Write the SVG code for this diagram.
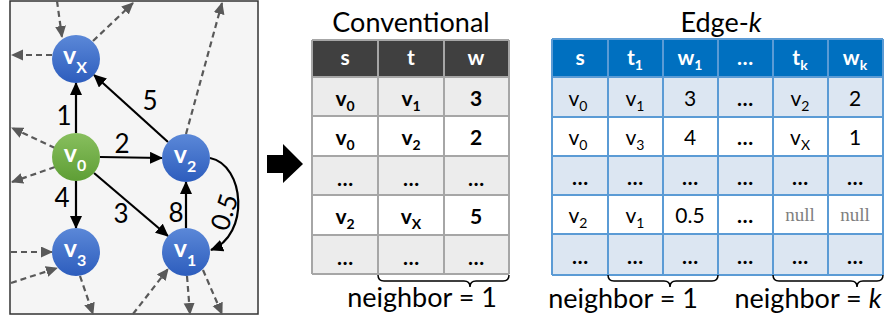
<svg xmlns="http://www.w3.org/2000/svg" width="886" height="322" viewBox="0 0 886 322">
<style>
text{font-family:Lato,"Open Sans","Liberation Sans",sans-serif}
.nl{font-size:25px;font-weight:bold;fill:#fff}
.ns{font-size:16px}
.wt{font-size:26px;fill:#000}
.e{stroke:#000;stroke-width:2.2;fill:none;marker-end:url(#ah)}
.d{stroke:#595959;stroke-width:2.2;stroke-dasharray:6 4;fill:none;marker-end:url(#dh)}
.hd{font-size:21px;font-weight:bold;fill:#fff}
.cb{font-size:21px;font-weight:bold;fill:#000}
.cn{font-size:21px;fill:#000}
.sb{font-size:14px}
.nul{font-family:"Liberation Serif",serif;font-size:19px;fill:#7f7f7f}
.ttl{font-size:27px;fill:#000}
.nb{font-size:27px;fill:#000}
.br{stroke:#000;stroke-width:1.5;fill:none}
.gc{stroke:#a6a6a6;stroke-width:2;fill:none}
.gb{stroke:#5b9bd5;stroke-width:2;fill:none}
</style>
<defs>
<linearGradient id="gB" x1="0" y1="0" x2="0" y2="1"><stop offset="0" stop-color="#5b88d8"/><stop offset="1" stop-color="#2d5dbd"/></linearGradient>
<linearGradient id="gG" x1="0" y1="0" x2="0" y2="1"><stop offset="0" stop-color="#88bf5e"/><stop offset="1" stop-color="#5e9e35"/></linearGradient>
<marker id="ah" markerUnits="userSpaceOnUse" markerWidth="14" markerHeight="12" refX="12" refY="6" orient="auto"><path d="M0,0 L13,6 L0,12 z" fill="#000"/></marker>
<marker id="dh" markerUnits="userSpaceOnUse" markerWidth="13" markerHeight="12" refX="11" refY="5.5" orient="auto"><path d="M0,0 L12,5.5 L0,11 z" fill="#595959"/></marker>
</defs>
<rect width="886" height="322" fill="#fff"/>
<rect x="10" y="1" width="248" height="313" fill="#f5f5f5" stroke="#333" stroke-width="1.5"/>

<g id="connectors">
<line class="d" x1="57" y1="1" x2="62" y2="37"/>
<line class="d" x1="93" y1="41" x2="133" y2="3"/>
<line class="d" x1="52" y1="55" x2="12" y2="55"/>
<line class="d" x1="186" y1="134" x2="222" y2="3"/>
<line class="d" x1="55" y1="148" x2="12" y2="128"/>
<line class="d" x1="55" y1="167" x2="12" y2="182"/>
<line class="d" x1="11" y1="252" x2="52" y2="252"/>
<line class="d" x1="11" y1="283" x2="57" y2="268"/>
<line class="d" x1="80" y1="276" x2="93" y2="314"/>
<line class="d" x1="133" y1="314" x2="168" y2="269"/>
<line class="d" x1="187" y1="276" x2="190" y2="314"/>
<line class="d" x1="203" y1="270" x2="222" y2="314"/>
<line class="e" x1="76" y1="133" x2="76" y2="83"/>
<line class="e" x1="168" y1="142" x2="94" y2="75"/>
<line class="e" x1="100" y1="157" x2="162" y2="158"/>
<line class="e" x1="76" y1="181" x2="76" y2="228"/>
<line class="e" x1="94" y1="173" x2="168" y2="236"/>
<line class="e" x1="186" y1="228" x2="186" y2="182"/>
<path class="e" d="M210,158 C245,165 250,235 211,250"/>
<text class="wt" x="64" y="125" text-anchor="middle">1</text>
<text class="wt" x="150" y="110" text-anchor="middle">5</text>
<text class="wt" x="122" y="153" text-anchor="middle">2</text>
<text class="wt" x="62" y="207" text-anchor="middle">4</text>
<text class="wt" x="121" y="223" text-anchor="middle">3</text>
<text class="wt" x="176" y="222" text-anchor="middle">8</text>
<text class="wt" x="0" y="0" text-anchor="middle" transform="translate(233,215) rotate(-72)">0.5</text>
</g>

<g id="node-vx"><circle cx="76" cy="59" r="24" fill="url(#gB)"/><text class="nl" x="75" y="64" text-anchor="middle">v<tspan class="ns" dy="9">X</tspan></text></g>
<g id="node-v0"><circle cx="76" cy="157" r="24" fill="url(#gG)"/><text class="nl" x="75" y="162" text-anchor="middle">v<tspan class="ns" dy="9">0</tspan></text></g>
<g id="node-v2"><circle cx="186" cy="158" r="24" fill="url(#gB)"/><text class="nl" x="185" y="163" text-anchor="middle">v<tspan class="ns" dy="9">2</tspan></text></g>
<g id="node-v3"><circle cx="76" cy="252" r="24" fill="url(#gB)"/><text class="nl" x="75" y="257" text-anchor="middle">v<tspan class="ns" dy="9">3</tspan></text></g>
<g id="node-v1"><circle cx="186" cy="252" r="24" fill="url(#gB)"/><text class="nl" x="185" y="257" text-anchor="middle">v<tspan class="ns" dy="9">1</tspan></text></g>

<g id="big-arrow"><polygon points="267,155 283,155 283,144 303,164 283,183 283,173 267,173" fill="#000"/></g>

<g id="table-conventional">
<text class="ttl" x="411" y="32" text-anchor="middle">Conventional</text>
<rect x="312" y="40" width="197" height="37" fill="#404040"/>
<rect x="312" y="77" width="197" height="39" fill="#ececec"/>
<rect x="312" y="156" width="197" height="39" fill="#ececec"/>
<rect x="312" y="235" width="197" height="39" fill="#ececec"/>
<path class="gc" d="M312,40 H509 M312,77 H509 M312,116 H509 M312,156 H509 M312,195 H509 M312,235 H509 M312,274 H509 M312,40 V274 M378,40 V274 M444,40 V274 M509,40 V274"/>
<text class="hd" x="345" y="65" text-anchor="middle">s</text>
<text class="hd" x="411" y="65" text-anchor="middle">t</text>
<text class="hd" x="476" y="65" text-anchor="middle">w</text>
<text class="cb" x="345" y="106" text-anchor="middle">v<tspan class="sb" dy="5">0</tspan></text>
<text class="cb" x="411" y="106" text-anchor="middle">v<tspan class="sb" dy="5">1</tspan></text>
<text class="cb" x="476" y="106" text-anchor="middle">3</text>
<text class="cb" x="345" y="145" text-anchor="middle">v<tspan class="sb" dy="5">0</tspan></text>
<text class="cb" x="411" y="145" text-anchor="middle">v<tspan class="sb" dy="5">2</tspan></text>
<text class="cb" x="476" y="145" text-anchor="middle">2</text>
<text class="cb" x="345" y="186" text-anchor="middle">…</text>
<text class="cb" x="411" y="186" text-anchor="middle">…</text>
<text class="cb" x="476" y="186" text-anchor="middle">…</text>
<text class="cb" x="345" y="224" text-anchor="middle">v<tspan class="sb" dy="5">2</tspan></text>
<text class="cb" x="411" y="224" text-anchor="middle">v<tspan class="sb" dy="5">X</tspan></text>
<text class="cb" x="476" y="224" text-anchor="middle">5</text>
<text class="cb" x="345" y="265" text-anchor="middle">…</text>
<text class="cb" x="411" y="265" text-anchor="middle">…</text>
<text class="cb" x="476" y="265" text-anchor="middle">…</text>
<path class="br" d="M378,275 Q378,281 384,281 L464,281 Q470,281 470,287 Q470,281 476,281 L503,281 Q509,281 509,275"/>
<text class="nb" x="422" y="307" text-anchor="middle">neighbor = 1</text>
</g>

<g id="table-edgek">
<text class="ttl" x="721" y="32" text-anchor="middle">Edge-<tspan font-style="italic">k</tspan></text>
<rect x="552" y="39" width="331" height="38" fill="#0070c0"/>
<rect x="552" y="77" width="331" height="40" fill="#dce6f2"/>
<rect x="552" y="156" width="331" height="39" fill="#dce6f2"/>
<rect x="552" y="234" width="331" height="41" fill="#dce6f2"/>
<path class="gb" d="M552,39 H883 M552,77 H883 M552,117 H883 M552,156 H883 M552,195 H883 M552,234 H883 M552,275 H883 M552,39 V275 M608,39 V275 M663,39 V275 M718,39 V275 M773,39 V275 M828,39 V275 M883,39 V275"/>
<text class="hd" x="580" y="65" text-anchor="middle">s</text>
<text class="hd" x="635" y="65" text-anchor="middle">t<tspan class="sb" dy="5">1</tspan></text>
<text class="hd" x="690" y="65" text-anchor="middle">w<tspan class="sb" dy="5">1</tspan></text>
<text class="hd" x="745" y="65" text-anchor="middle">…</text>
<text class="hd" x="800" y="65" text-anchor="middle">t<tspan class="sb" dy="5">k</tspan></text>
<text class="hd" x="855" y="65" text-anchor="middle">w<tspan class="sb" dy="5">k</tspan></text>
<text class="cn" x="578" y="106" text-anchor="middle">v<tspan class="sb" dy="5">0</tspan></text>
<text class="cn" x="635" y="106" text-anchor="middle">v<tspan class="sb" dy="5">1</tspan></text>
<text class="cn" x="690" y="106" text-anchor="middle">3</text>
<text class="cb" x="745" y="106" text-anchor="middle">…</text>
<text class="cn" x="800" y="106" text-anchor="middle">v<tspan class="sb" dy="5">2</tspan></text>
<text class="cn" x="855" y="106" text-anchor="middle">2</text>
<text class="cn" x="578" y="145" text-anchor="middle">v<tspan class="sb" dy="5">0</tspan></text>
<text class="cn" x="635" y="145" text-anchor="middle">v<tspan class="sb" dy="5">3</tspan></text>
<text class="cn" x="690" y="145" text-anchor="middle">4</text>
<text class="cb" x="745" y="145" text-anchor="middle">…</text>
<text class="cn" x="800" y="145" text-anchor="middle">v<tspan class="sb" dy="5">X</tspan></text>
<text class="cn" x="855" y="145" text-anchor="middle">1</text>
<text class="cb" x="580" y="185" text-anchor="middle">…</text>
<text class="cb" x="635" y="185" text-anchor="middle">…</text>
<text class="cb" x="690" y="185" text-anchor="middle">…</text>
<text class="cb" x="745" y="185" text-anchor="middle">…</text>
<text class="cb" x="800" y="185" text-anchor="middle">…</text>
<text class="cb" x="855" y="185" text-anchor="middle">…</text>
<text class="cn" x="578" y="223" text-anchor="middle">v<tspan class="sb" dy="5">2</tspan></text>
<text class="cn" x="635" y="223" text-anchor="middle">v<tspan class="sb" dy="5">1</tspan></text>
<text class="cn" x="690" y="223" text-anchor="middle">0.5</text>
<text class="cb" x="745" y="223" text-anchor="middle">…</text>
<text class="nul" x="800" y="221" text-anchor="middle">null</text>
<text class="nul" x="855" y="221" text-anchor="middle">null</text>
<text class="cb" x="580" y="264" text-anchor="middle">…</text>
<text class="cb" x="635" y="264" text-anchor="middle">…</text>
<text class="cb" x="690" y="264" text-anchor="middle">…</text>
<text class="cb" x="745" y="264" text-anchor="middle">…</text>
<text class="cb" x="800" y="264" text-anchor="middle">…</text>
<text class="cb" x="855" y="264" text-anchor="middle">…</text>
<path class="br" d="M608,275 Q608,281 614,281 L664,281 Q670,281 670,287 Q670,281 676,281 L712,281 Q718,281 718,275"/>
<path class="br" d="M773,275 Q773,281 779,281 L851,281 Q857,281 857,287 Q857,281 863,281 L877,281 Q883,281 883,275"/>
<text class="nb" x="623" y="308" text-anchor="middle">neighbor = 1</text>
<text class="nb" x="808" y="308" text-anchor="middle">neighbor = <tspan font-style="italic">k</tspan></text>
</g>
</svg>
